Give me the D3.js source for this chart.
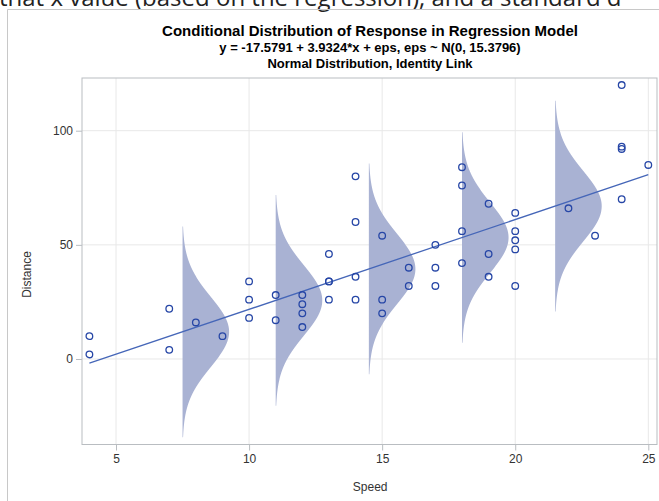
<!DOCTYPE html>
<html>
<head>
<meta charset="utf-8">
<script src="https://cdn.jsdelivr.net/npm/d3@7"></script>
<style>
  body { margin: 0; background: #fff; }
  svg { display: block; }
</style>
</head>
<body>
<div id="chart"></div>
<script>
(function () {

  // data (speed vs stopping distance)
  var speed = [4, 4, 7, 7, 8, 9, 10, 10, 10, 11, 11, 12, 12, 12, 12, 13, 13, 13, 13,
    14, 14, 14, 14, 15, 15, 15, 16, 16, 17, 17, 17, 18, 18, 18, 18, 19, 19, 19,
    20, 20, 20, 20, 20, 22, 23, 24, 24, 24, 24, 25]
  var dist = [2, 10, 4, 22, 16, 10, 18, 26, 34, 17, 28, 14, 20, 24, 28, 26, 34, 34, 46,
    26, 36, 60, 80, 20, 26, 54, 32, 40, 32, 40, 50, 42, 56, 76, 84, 36, 46, 68,
    32, 48, 52, 56, 64, 66, 54, 70, 92, 93, 120, 85]

  // model from the title
  var intercept = -17.5791, slope = 3.9324, sigma = 15.3796
  // where the conditional densities are drawn
  var curveX = [7.5, 11, 14.5, 18, 21.5]

  var xTicks = [5, 10, 15, 20, 25]
  var yTicks = [0, 50, 100]

  var titles = [
    "Conditional Distribution of Response in Regression Model",
    "y = -17.5791 + 3.9324*x + eps, eps ~ N(0, 15.3796)",
    "Normal Distribution, Identity Link"
  ]

  var W = 659, H = 501
  var margin = { top: 78, right: 2, bottom: 56.5, left: 82 }
  var width = W - margin.left - margin.right,
      height = H - margin.top - margin.bottom

  var svg = d3.select("#chart").append("svg")
    .attr("width", W)
    .attr("height", H)

  // cropped article text above the graph
  svg.append("text")
    .attr("x", -1)
    .attr("y", 6)
    .attr("font-family", "Open Sans, sans-serif")
    .attr("font-size", 24)
    .attr("fill", "#222")
    .text("that x value (based on the regression), and a standard d")

  // outer graph border
  svg.append("path")
    .attr("d", "M7.5," + H + "V9.5H" + W)
    .attr("fill", "none")
    .attr("stroke", "#c8c8c8")

  // titles
  svg.selectAll(".title")
    .data(titles)
    .join("text")
    .attr("class", "title")
    .attr("x", 370)
    .attr("y", (d, i) => 36 + i * 16)
    .attr("text-anchor", "middle")
    .attr("font-family", "Liberation Sans Narrow, Liberation Sans, Arial, sans-serif")
    .attr("font-weight", "bold")
    .attr("font-size", (d, i) => i == 0 ? 15 : 13)
    .attr("fill", "#000")
    .text(d => d)

  var g = svg.append("g")
    .attr("transform", "translate(" + margin.left + "," + margin.top + ")")

  var x = d3.scaleLinear().domain([3.722, 25.327]).range([0, width])
  var y = d3.scaleLinear().domain([-37.45, 123.08]).range([height, 0])

  // grid lines
  g.selectAll(".vgrid")
    .data(xTicks)
    .join("line")
    .attr("x1", d => x(d)).attr("x2", d => x(d))
    .attr("y1", 0).attr("y2", height)
    .attr("stroke", "#e8e8e8")
  g.selectAll(".hgrid")
    .data(yTicks)
    .join("line")
    .attr("y1", d => y(d)).attr("y2", d => y(d))
    .attr("x1", 0).attr("x2", width)
    .attr("stroke", "#e8e8e8")

  // conditional normal densities, half-width of peak = half spacing
  var peak = 1 / (Math.sqrt(2 * Math.PI) * sigma)
  var halfW = 1.75
  var area = d3.area()
    .x0(d => x(d.x0))
    .x1(d => x(d.x0 + d.w))
    .y(d => y(d.y))
    .curve(d3.curveBasis)
  curveX.forEach(function (cx) {
    var mu = intercept + slope * cx
    var pts = d3.range(-3, 3.001, 0.05).map(function (z) {
      var dens = Math.exp(-0.5 * z * z) / (Math.sqrt(2 * Math.PI) * sigma)
      return { x0: cx, w: halfW * dens / peak, y: mu + z * sigma }
    })
    g.append("path")
      .datum(pts)
      .attr("d", area)
      .attr("fill", "#a9b2d3")
  })

  // regression line
  g.append("line")
    .attr("x1", x(d3.min(speed))).attr("y1", y(intercept + slope * d3.min(speed)))
    .attr("x2", x(d3.max(speed))).attr("y2", y(intercept + slope * d3.max(speed)))
    .attr("stroke", "#4566b8")
    .attr("stroke-width", 1.3)

  // observations
  g.selectAll("circle")
    .data(speed)
    .join("circle")
    .attr("cx", d => x(d))
    .attr("cy", (d, i) => y(dist[i]))
    .attr("r", 3.3)
    .attr("fill", "none")
    .attr("stroke", "#2646a6")
    .attr("stroke-width", 1.3)

  // frame
  g.append("rect")
    .attr("x", 0).attr("y", 0)
    .attr("width", width).attr("height", height)
    .attr("fill", "none")
    .attr("stroke", "#b9bdc1")

  // axes
  var xAxis = d3.axisBottom(x).tickValues(xTicks).tickSize(6).tickSizeOuter(0)
  var gx = g.append("g")
    .attr("transform", "translate(0," + height + ")")
    .call(xAxis)
  var yAxis = d3.axisLeft(y).tickValues(yTicks).tickSize(6).tickSizeOuter(0)
  var gy = g.append("g").call(yAxis)

  ;[gx, gy].forEach(function (a) {
    a.select(".domain").remove()
    a.selectAll(".tick line").attr("stroke", "#b9bdc1")
    a.selectAll(".tick text")
      .attr("fill", "#333")
      .attr("font-family", "Liberation Sans, Arial, sans-serif")
      .attr("font-size", 12)
  })
  gx.selectAll(".tick text").attr("dy", "0.71em").attr("y", 10)
  gy.selectAll(".tick text").attr("x", -9)

  // axis labels
  svg.append("text")
    .attr("x", margin.left + x(15) - 12)
    .attr("y", 491)
    .attr("text-anchor", "middle")
    .attr("font-family", "Liberation Sans, Arial, sans-serif")
    .attr("font-size", 12)
    .attr("fill", "#333")
    .text("Speed")

  svg.append("text")
    .attr("transform", "translate(31," + (margin.top + y(37)) + ") rotate(-90)")
    .attr("text-anchor", "middle")
    .attr("font-family", "Liberation Sans, Arial, sans-serif")
    .attr("font-size", 12)
    .attr("fill", "#333")
    .text("Distance")

})();
</script>
</body>
</html>
